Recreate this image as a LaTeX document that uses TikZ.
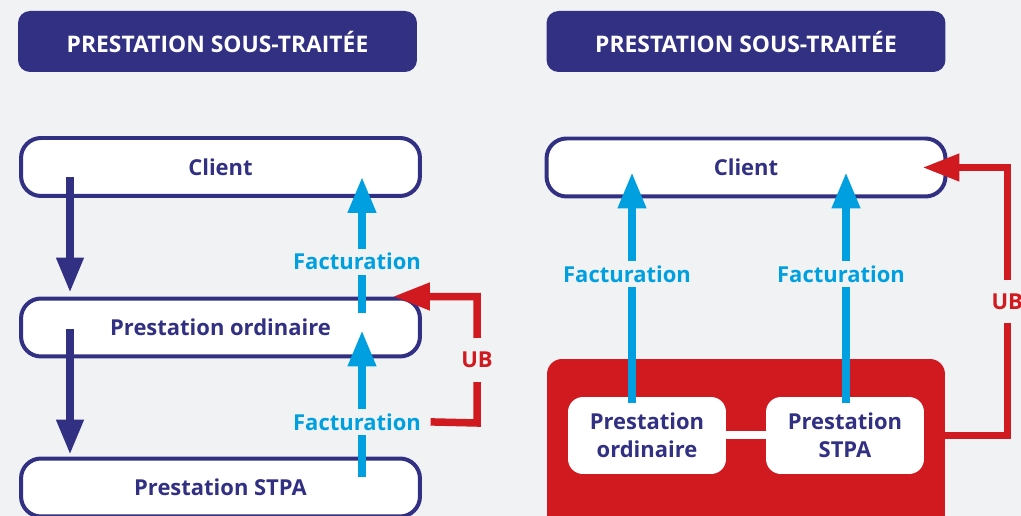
\documentclass[tikz,border=0pt]{standalone}
\usepackage{fontspec}
\setmainfont{Open Sans}
\usetikzlibrary{arrows.meta,calc,positioning}
\definecolor{navy}{RGB}{50,48,131}
\definecolor{sky}{RGB}{0,160,224}
\definecolor{alert}{RGB}{209,26,32}
\definecolor{paper}{RGB}{241,242,244}
\tikzset{
  title/.style={fill=navy, text=white, rounded corners=0.24cm, minimum width=7.98cm,
    minimum height=1.22cm, inner sep=0pt, font=\bfseries\fontsize{13}{15}\selectfont},
  wbox/.style={draw=navy, line width=0.08cm, fill=white, rounded corners=0.4cm,
    minimum width=7.98cm, minimum height=1.16cm, inner sep=0pt, text=navy},
  inbox/.style={fill=white, rounded corners=0.3cm, minimum width=3.16cm,
    minimum height=1.54cm, inner sep=0pt, text=navy, align=center},
  grp/.style={fill=alert, rounded corners=0.3cm, minimum width=7.96cm, minimum height=3.6cm},
  fac/.style={fill=paper, text=sky, inner xsep=0.12cm, inner ysep=0.09cm},
  ub/.style={fill=paper, text=alert, inner xsep=0.1cm, inner ysep=0.28cm},
  navyarr/.style={draw=navy, line width=0.15cm, -{Triangle[length=0.7cm,width=0.52cm]}},
  skyarr/.style={draw=sky, line width=0.15cm, -{Triangle[length=0.72cm,width=0.54cm]}},
  redarr/.style={draw=alert, line width=0.15cm, -{Triangle[length=0.74cm,width=0.52cm]}},
}

\begin{document}
\begin{tikzpicture}[x=0.02cm, y=0.02cm,
  every node/.style={font=\bfseries\fontsize{12.5}{16}\selectfont}]
\useasboundingbox[fill=paper] (0,0) rectangle (1021,-516);
% Left: chain Client -> ordinaire -> STPA
\node[title] (h1) at (217.5,-41.5) {PRESTATION SOUS-TRAITÉE};
\node[wbox] (cl1) at (220.5,-167) {Client};
\node[wbox] (or1) at (220.5,-327.5) {Prestation ordinaire};
\node[wbox] (st1) at (220.5,-487.5) {Prestation STPA};
\draw[navyarr] ([shift={(-150.5,-10)}]cl1.center) -- ([shift={(-150.5,4)}]or1.north);
\draw[navyarr] ([shift={(-150.5,-1.5)}]or1.center) -- ([shift={(-150.5,2)}]st1.north);
\draw[skyarr] ([shift={(141.5,-16)}]or1.north)
  -- node[fac,pos=0.375,xshift=-0.1cm] (f1) {Facturation} ([shift={(141.5,21)}]cl1.south);
\draw[skyarr] ([shift={(141.5,-20)}]st1.north)
  -- node[fac,pos=0.374,xshift=-0.1cm] (f2) {Facturation} ([shift={(141.5,28)}]or1.south);
\draw[redarr] (f2.east) -- (477,-423) |- node[ub,pos=0.25] {UB} ([xshift=-0.58cm]or1.north east);
% Right: both prestations billed to Client
\node[title] (h2) at (746,-41.5) {PRESTATION SOUS-TRAITÉE};
\node[wbox] (cl2) at (746,-167.5) {Client};
\node[grp] (rb) at (746,-449) {};
\node[inbox] (or2) at (647,-435.5) {Prestation\\ordinaire};
\node[inbox] (st2) at (845,-435.5) {Prestation\\STPA};
\draw[white, line width=0.16cm] (or2) -- (st2);
\draw[skyarr] ([shift={(-15,-6)}]or2.north)
  -- node[fac,pos=0.558,xshift=-0.1cm] (f3) {Facturation} ([shift={(-114,26)}]cl2.south);
\draw[skyarr] ([shift={(1,-6)}]st2.north)
  -- node[fac,pos=0.558,xshift=-0.1cm] (f4) {Facturation} ([shift={(100,26)}]cl2.south);
\draw[redarr] (rb.east |- st2.center) -- ++(62,0) |- node[ub,pos=0.25] {UB} ([xshift=-0.5cm]cl2.east);
\end{tikzpicture}
\end{document}
